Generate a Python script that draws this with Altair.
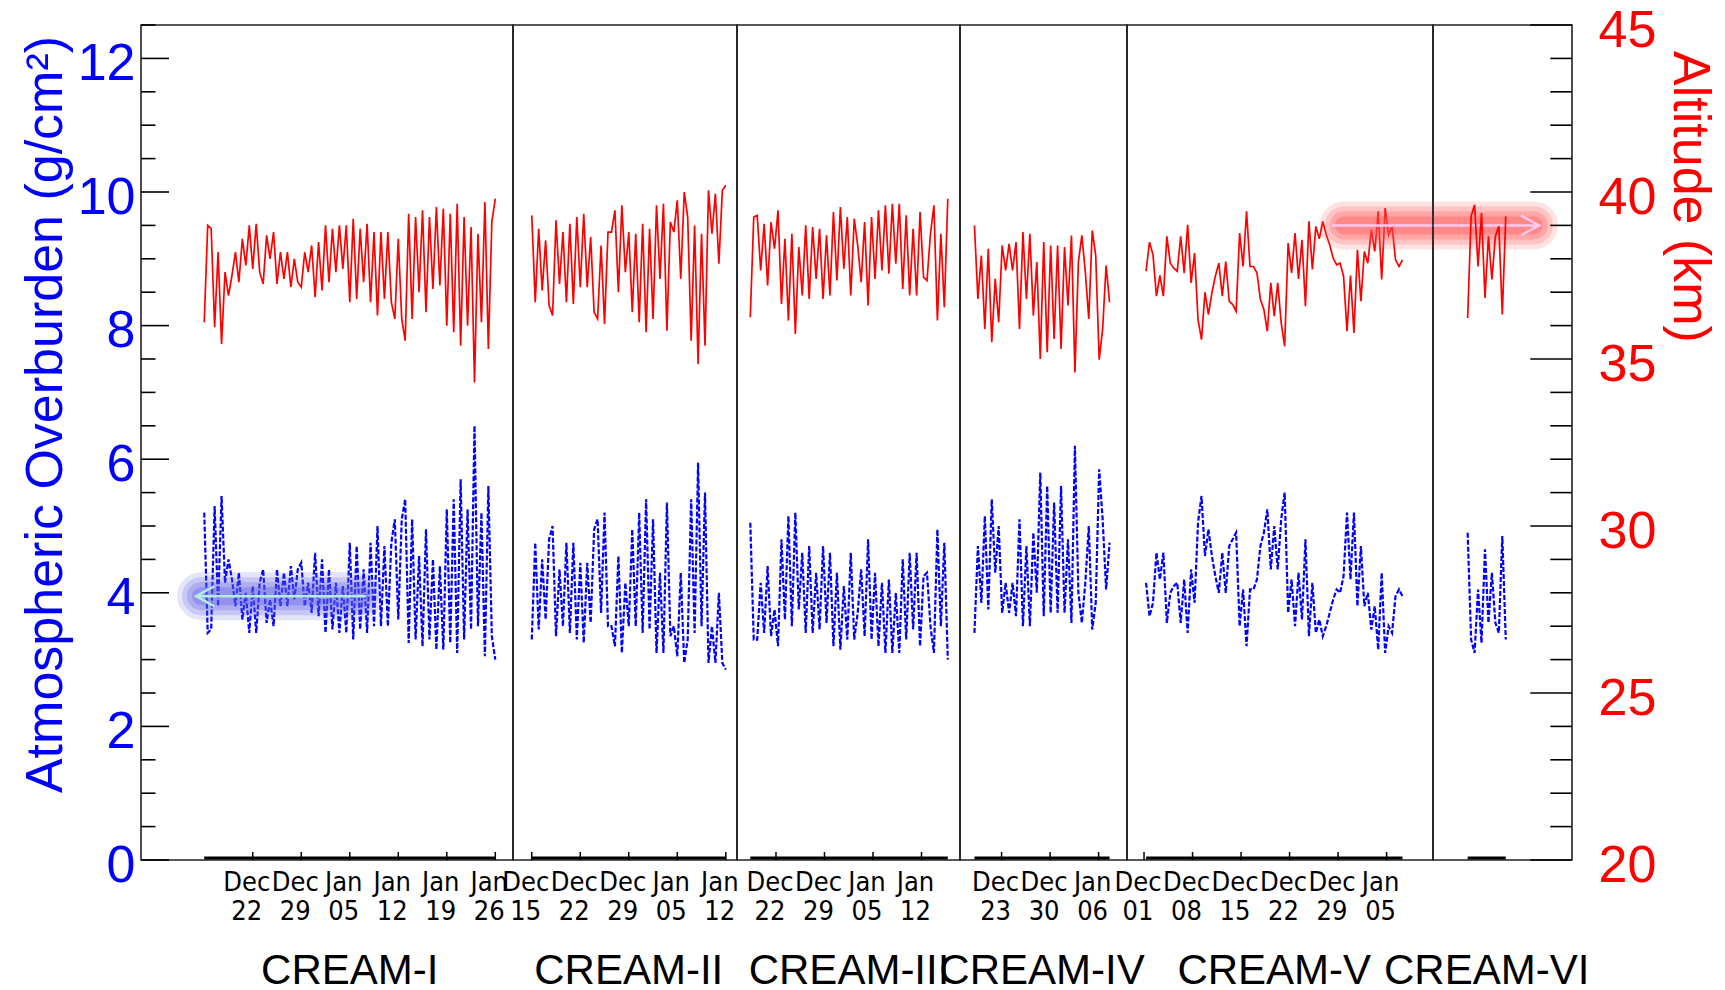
import altair as alt
import pandas as pd
from datetime import datetime, timedelta, timezone

UTC = timezone.utc

# ---------------- data ----------------
flights = ["CREAM-I", "CREAM-II", "CREAM-III", "CREAM-IV", "CREAM-V", "CREAM-VI"]

# first sample of each flight (UTC); samples every 12 h
start_times = ["2004-12-15T00:00", "2005-12-15T00:00", "2007-12-18T07:00",
               "2008-12-19T02:00", "2009-12-01T07:00", "2010-12-21T00:00"]

# altitude (km)
alt_1 = [36.1, 39.0, 38.9, 35.95, 38.2, 35.45, 37.6, 36.9, 37.5, 38.2,
         37.3, 38.6, 37.8, 39.0, 37.7, 39.05, 37.6, 37.25, 38.7, 38.0,
         38.8, 37.25, 38.2, 37.4, 38.2, 37.15, 38.0, 37.3, 37.15, 38.2,
         37.6, 38.4, 36.85, 38.5, 37.05, 39.0, 37.3, 38.9, 37.6, 39.0,
         37.7, 39.0, 36.7, 39.2, 36.8, 38.9, 37.3, 39.05, 36.7, 38.8,
         36.3, 38.8, 36.8, 38.8, 36.7, 36.2, 38.6, 36.2, 35.55, 39.35,
         36.2, 39.25, 37.0, 39.45, 36.4, 39.25, 37.1, 39.55, 37.2, 39.5,
         36.0, 39.35, 35.8, 39.65, 35.4, 39.25, 36.0, 38.95, 34.3, 38.75,
         36.1, 39.7, 35.3, 39.1, 39.8]
alt_2 = [39.3, 36.7, 38.9, 37.05, 38.55, 36.6, 36.3, 39.15, 37.25, 38.8,
         36.7, 39.05, 36.65, 39.25, 37.15, 39.35, 37.15, 38.65, 36.4, 36.2,
         38.4, 36.05, 38.8, 38.8, 39.45, 37.0, 39.6, 37.6, 38.8, 36.4,
         38.75, 36.1, 39.05, 35.8, 38.9, 36.2, 39.6, 37.4, 39.65, 35.85,
         39.1, 38.8, 39.75, 37.4, 40.0, 39.25, 35.55, 39.0, 34.85, 38.75,
         35.4, 40.05, 38.75, 39.95, 37.85, 40.05, 40.2]
alt_3 = [36.25, 39.25, 39.3, 37.65, 39.05, 37.2, 39.1, 38.3, 39.45, 36.65,
         38.6, 36.15, 38.75, 35.75, 38.35, 36.9, 39.0, 36.8, 38.95, 37.4,
         38.9, 36.8, 38.7, 36.9, 39.4, 37.35, 39.55, 37.7, 39.25, 36.9,
         39.2, 38.4, 37.3, 39.1, 36.6, 39.25, 37.4, 39.45, 37.65, 39.6,
         37.55, 39.65, 37.85, 39.65, 37.1, 39.3, 36.9, 38.9, 36.9, 39.4,
         37.45, 37.35, 38.75, 39.6, 36.15, 38.75, 36.55, 39.8]
alt_4 = [39.0, 36.8, 38.1, 35.9, 38.3, 35.5, 37.4, 36.1, 38.4, 37.65,
         38.45, 37.65, 38.5, 35.9, 38.8, 36.8, 38.75, 36.3, 37.9, 35.0,
         38.5, 35.2, 38.4, 35.6, 38.4, 35.3, 38.35, 36.6, 38.7, 34.6,
         37.9, 38.7, 37.6, 36.2, 38.85, 38.1, 34.98, 35.9, 37.8, 36.7]
alt_5 = [37.63, 38.5, 38.12, 36.88, 37.5, 36.88, 38.67, 37.87, 37.72, 37.63,
         38.67, 37.58, 39.02, 37.28, 38.17, 36.18, 35.58, 37.0, 36.33, 36.98,
         37.48, 37.87, 36.88, 37.92, 36.73, 36.63, 36.43, 38.77, 37.77, 39.42,
         37.77, 37.77, 37.58, 36.78, 36.48, 35.83, 37.28, 36.28, 37.28, 36.08,
         35.38, 38.47, 37.58, 38.77, 37.4, 38.57, 36.58, 39.12, 37.68, 38.97,
         38.6, 39.12, 38.72, 38.42, 38.02, 37.82, 37.87, 37.48, 35.83, 37.5,
         35.78, 38.27, 36.73, 38.22, 37.87, 38.87, 38.22, 39.42, 37.38, 39.52,
         38.72, 38.97, 37.97, 37.77, 37.97]
alt_6 = [36.23, 39.27, 39.62, 37.77, 39.37, 36.83, 38.67, 37.38, 38.67, 38.97,
         36.33, 39.27]

# atmospheric overburden (g/cm^2)
ob_1 = [5.2, 3.4, 3.45, 5.3, 3.8, 5.45, 4.15, 4.5, 4.2, 3.8,
        4.3, 3.6, 4.0, 3.4, 4.1, 3.4, 4.15, 4.35, 3.55, 3.9,
        3.5, 4.35, 3.8, 4.3, 3.8, 4.4, 3.9, 4.35, 4.45, 3.8,
        4.15, 3.7, 4.6, 3.65, 4.5, 3.4, 4.35, 3.45, 4.15, 3.4,
        4.1, 3.4, 4.75, 3.3, 4.7, 3.45, 4.35, 3.4, 4.75, 3.5,
        5.0, 3.5, 4.7, 3.5, 4.75, 5.1, 3.6, 5.1, 5.4, 3.25,
        5.1, 3.3, 4.55, 3.2, 4.95, 3.3, 4.5, 3.15, 4.4, 3.15,
        5.25, 3.25, 5.4, 3.1, 5.7, 3.3, 5.25, 3.45, 6.5, 3.5,
        5.2, 3.05, 5.6, 3.35, 3.0]
ob_2 = [3.3, 4.75, 3.45, 4.5, 3.6, 4.8, 5.0, 3.35, 4.35, 3.5,
        4.75, 3.4, 4.75, 3.3, 4.45, 3.25, 4.45, 3.55, 4.95, 5.1,
        3.7, 5.2, 3.5, 3.5, 3.2, 4.55, 3.1, 4.15, 3.5, 4.95,
        3.5, 5.2, 3.4, 5.4, 3.45, 5.1, 3.1, 4.3, 3.1, 5.35,
        3.35, 3.5, 3.05, 4.3, 2.95, 3.3, 5.4, 3.4, 5.95, 3.5,
        5.5, 2.95, 3.5, 2.95, 4.0, 2.95, 2.85]
ob_3 = [5.05, 3.3, 3.3, 4.15, 3.4, 4.4, 3.35, 3.75, 3.2, 4.8,
        3.6, 5.15, 3.5, 5.2, 3.75, 4.6, 3.4, 4.7, 3.4, 4.3,
        3.45, 4.7, 3.55, 4.6, 3.2, 4.3, 3.15, 4.1, 3.3, 4.6,
        3.3, 3.7, 4.35, 3.35, 4.8, 3.3, 4.3, 3.2, 4.15, 3.1,
        4.2, 3.1, 4.0, 3.1, 4.5, 3.3, 4.6, 3.45, 4.6, 3.2,
        4.25, 4.3, 3.5, 3.1, 4.95, 3.5, 4.75, 3.0]
ob_4 = [3.4, 4.7, 3.85, 5.15, 3.75, 5.4, 4.3, 5.0, 3.7, 4.15,
        3.7, 4.15, 3.65, 5.1, 3.5, 4.7, 3.5, 4.9, 4.0, 5.8,
        3.65, 5.6, 3.7, 5.35, 3.7, 5.6, 3.7, 4.8, 3.55, 6.2,
        4.0, 3.55, 4.15, 5.0, 3.45, 3.85, 5.85, 5.1, 4.05, 4.75]
ob_5 = [4.15, 3.65, 3.85, 4.6, 4.2, 4.6, 3.55, 4.0, 4.1, 4.15,
        3.55, 4.2, 3.4, 4.35, 3.85, 5.05, 5.45, 4.55, 4.95, 4.55,
        4.25, 4.0, 4.6, 4.0, 4.7, 4.8, 4.9, 3.5, 4.05, 3.2,
        4.05, 4.05, 4.2, 4.7, 4.9, 5.25, 4.35, 5.0, 4.35, 5.1,
        5.5, 3.7, 4.2, 3.5, 4.3, 3.6, 4.8, 3.35, 4.15, 3.4,
        3.6, 3.35, 3.5, 3.7, 3.9, 4.05, 4.0, 4.25, 5.2, 4.2,
        5.2, 3.8, 4.7, 3.8, 4.0, 3.45, 3.8, 3.15, 4.3, 3.1,
        3.5, 3.4, 3.95, 4.05, 3.95]
ob_6 = [4.9, 3.3, 3.1, 4.05, 3.25, 4.65, 3.55, 4.3, 3.55, 3.4, 4.85, 3.3]

# weekly date ticks shown under each flight
ticks_1 = ["2004-12-22", "2004-12-29", "2005-01-05", "2005-01-12", "2005-01-19", "2005-01-26"]
ticks_2 = ["2005-12-15", "2005-12-22", "2005-12-29", "2006-01-05", "2006-01-12"]
ticks_3 = ["2007-12-22", "2007-12-29", "2008-01-05", "2008-01-12"]
ticks_4 = ["2008-12-23", "2008-12-30", "2009-01-06"]
ticks_5 = ["2009-12-01", "2009-12-08", "2009-12-15", "2009-12-22", "2009-12-29", "2010-01-05"]
ticks_6 = []

altitudes = [alt_1, alt_2, alt_3, alt_4, alt_5, alt_6]
overburdens = [ob_1, ob_2, ob_3, ob_4, ob_5, ob_6]
tick_dates = [ticks_1, ticks_2, ticks_3, ticks_4, ticks_5, ticks_6]

# axis tick values
ob_major = [0, 2, 4, 6, 8, 10, 12]
ob_minor = [0.5 * i for i in range(26) if i % 4 != 0]
km_major = [20, 25, 30, 35, 40, 45]
km_minor = [k for k in range(20, 46) if k % 5 != 0]

# ---------------- layout / styling ----------------
PANEL_W = [372, 224, 223, 167, 306, 139]
PANEL_H = 835
PX_PER_DAY = 6.93
DOMAIN_START = ["2004-12-05T21:00", "2005-12-12T07:00", "2007-12-16T09:00",
                "2008-12-17T00:00", "2009-11-28T13:00", "2010-12-16T00:00"]

# highlight annotations
BLUE_NOTE = dict(panel=0, g0="2004-12-14T13:00", g1="2005-01-06T08:00",
                 a0="2004-12-13T20:00", a1="2005-01-07T08:00", v=3.95)
RED_NOTE = dict(panel=4, g0="2009-12-29T20:00", g1="2010-01-26T06:00",
                a0="2009-12-28T03:00", a1="2010-01-27T00:00", v=39.0)

FONT = "Liberation Sans, Arial, Helvetica, sans-serif"
NARROW = "'Liberation Sans Narrow', 'Arial Narrow', 'DejaVu Sans Condensed', 'Liberation Sans', sans-serif"
RED = "#ff0000"
BLUE = "#0000ff"


def ms(s):
    return datetime.fromisoformat(s).replace(tzinfo=UTC).timestamp() * 1000.0


km_scale = alt.Scale(domain=[20, 45], nice=False, zero=False)
ob_scale = alt.Scale(domain=[0, 12.5], nice=False, zero=False)


def glow(df, xscale, yfield, yscale, color, arrow_color, head_shape):
    layers = []
    for w, o in [(48, 0.16), (38, 0.2), (28, 0.25), (18, 0.3)]:
        layers.append(
            alt.Chart(df).mark_rule(color=color, strokeWidth=w, opacity=o, strokeCap="round").encode(
                x=alt.X("g0:T", scale=xscale, axis=None), x2="g1:T",
                y=alt.Y(yfield, scale=yscale, axis=None)))
    layers.append(
        alt.Chart(df).mark_rule(color=arrow_color, strokeWidth=2.5).encode(
            x=alt.X("a0:T", scale=xscale, axis=None), x2="a1:T",
            y=alt.Y(yfield, scale=yscale, axis=None)))
    layers.append(
        alt.Chart(df).mark_point(shape=head_shape, size=1300, filled=False, strokeWidth=2.5,
                                 color=arrow_color, opacity=1).encode(
            x=alt.X("head:T", scale=xscale, axis=None),
            y=alt.Y(yfield, scale=yscale, axis=None)))
    return layers


panels = []
for k in range(6):
    t0 = datetime.fromisoformat(start_times[k]).replace(tzinfo=UTC)
    times = [(t0 + timedelta(hours=12 * i)).timestamp() * 1000.0 for i in range(len(altitudes[k]))]
    df = pd.DataFrame({"t": times, "km": altitudes[k], "ob": overburdens[k]})

    d0 = datetime.fromisoformat(DOMAIN_START[k]).replace(tzinfo=UTC)
    d1 = d0 + timedelta(days=PANEL_W[k] / PX_PER_DAY)
    xscale = alt.Scale(type="utc", domain=[d0.timestamp() * 1000.0, d1.timestamp() * 1000.0], nice=False)

    km_axis = None
    ob_axis = None
    if k == 0:
        ob_axis = alt.Axis(orient="left", values=ob_major, ticks=False, domain=False, grid=False,
                           labelColor=BLUE, labelFont=FONT, labelFontSize=52, labelPadding=6,
                           labelOffset=5, labelBaseline="middle", labelAlign="right", labelFlush=False,
                           title="Atmospheric Overburden (g/cm²)", titleColor=BLUE, titleFont=FONT,
                           titleFontSize=52, titleFontWeight="normal", titleAngle=270,
                           titleX=-96, titleY=389, titleAlign="center", titleBaseline="middle")
    if k == 5:
        km_axis = alt.Axis(orient="right", values=km_major, ticks=False, domain=False, grid=False,
                           labelColor=RED, labelFont=FONT, labelFontSize=52, labelPadding=26,
                           labelOffset=5, labelBaseline="middle", labelAlign="left", labelFlush=False,
                           title="Altitude (km)", titleColor=RED, titleFont=FONT,
                           titleFontSize=52, titleFontWeight="normal", titleAngle=90,
                           titleX=117, titleY=171.5, titleAlign="center", titleBaseline="middle")

    red = alt.Chart(df).mark_line(color=RED, strokeWidth=1.7).encode(
        x=alt.X("t:T", scale=xscale, axis=None),
        y=alt.Y("km:Q", scale=km_scale, axis=km_axis))
    blue = alt.Chart(df).mark_line(color=BLUE, strokeWidth=2.2, strokeDash=[5, 2]).encode(
        x=alt.X("t:T", scale=xscale, axis=None),
        y=alt.Y("ob:Q", scale=ob_scale, axis=ob_axis))

    layers = [red, blue]

    # flight time line along the bottom
    span = pd.DataFrame({"t0": [times[0]], "t1": [times[-1]]})
    layers.append(alt.Chart(span).mark_rule(color="black", strokeWidth=3).encode(
        x=alt.X("t0:T", scale=xscale, axis=None), x2="t1:T", y=alt.value(PANEL_H - 2)))

    if tick_dates[k]:
        tdf = pd.DataFrame({"t": [ms(d) for d in tick_dates[k]],
                            "mon": [datetime.fromisoformat(d).strftime("%b") for d in tick_dates[k]],
                            "day": [datetime.fromisoformat(d).strftime("%d") for d in tick_dates[k]]})
        layers.append(alt.Chart(tdf).mark_rule(color="black", strokeWidth=1.5).encode(
            x=alt.X("t:T", scale=xscale, axis=None), y=alt.value(PANEL_H - 8), y2=alt.value(PANEL_H)))
        layers.append(alt.Chart(tdf).mark_text(font=NARROW, fontSize=27, color="black", dx=-6,
                                               baseline="middle", align="center").encode(
            x=alt.X("t:T", scale=xscale, axis=None), y=alt.value(PANEL_H + 23), text="mon:N"))
        layers.append(alt.Chart(tdf).mark_text(font=NARROW, fontSize=27, color="black", dx=-6,
                                               baseline="middle", align="center").encode(
            x=alt.X("t:T", scale=xscale, axis=None), y=alt.value(PANEL_H + 52), text="day:N"))

    # flight name
    lab = pd.DataFrame({"t": [(times[0] + times[-1]) / 2.0], "name": [flights[k]]})
    layers.append(alt.Chart(lab).mark_text(font=FONT, fontSize=42, color="black",
                                           baseline="middle", align="center").encode(
        x=alt.X("t:T", scale=xscale, axis=None), y=alt.value(946), text="name:N"))

    if k == 0:
        layers.append(alt.Chart(pd.DataFrame({"v": ob_major})).mark_rule(color="black", strokeWidth=1.6).encode(
            x=alt.value(0), x2=alt.value(28), y=alt.Y("v:Q", scale=ob_scale, axis=None)))
        layers.append(alt.Chart(pd.DataFrame({"v": ob_minor})).mark_rule(color="black", strokeWidth=1.6).encode(
            x=alt.value(0), x2=alt.value(14.5), y=alt.Y("v:Q", scale=ob_scale, axis=None)))
    if k == 5:
        layers.append(alt.Chart(pd.DataFrame({"v": km_major})).mark_rule(color="black", strokeWidth=1.6).encode(
            x=alt.value(PANEL_W[k] - 41.7), x2=alt.value(PANEL_W[k]), y=alt.Y("v:Q", scale=km_scale, axis=None)))
        layers.append(alt.Chart(pd.DataFrame({"v": km_minor})).mark_rule(color="black", strokeWidth=1.6).encode(
            x=alt.value(PANEL_W[k] - 21.7), x2=alt.value(PANEL_W[k]), y=alt.Y("v:Q", scale=km_scale, axis=None)))

    if k == BLUE_NOTE["panel"]:
        n = BLUE_NOTE
        gdf = pd.DataFrame({"g0": [ms(n["g0"])], "g1": [ms(n["g1"])], "a0": [ms(n["a0"])],
                            "a1": [ms(n["a1"])], "head": [ms(n["a0"])], "v": [n["v"]]})
        layers += glow(gdf, xscale, "v:Q", ob_scale, "#5a5ae6", "#b4ece0", "M1,-0.55L0,0L1,0.55")
    if k == RED_NOTE["panel"]:
        n = RED_NOTE
        gdf = pd.DataFrame({"g0": [ms(n["g0"])], "g1": [ms(n["g1"])], "a0": [ms(n["a0"])],
                            "a1": [ms(n["a1"])], "head": [ms(n["a1"])], "v": [n["v"]]})
        layers += glow(gdf, xscale, "v:Q", km_scale, "#ff4a4a", "#ffc8f0", "M-1,-0.55L0,0L-1,0.55")

    panel = alt.layer(*layers).resolve_scale(y="independent").properties(
        width=PANEL_W[k], height=PANEL_H)
    panels.append(panel)

chart = alt.hconcat(*panels, spacing=0, bounds="flush").resolve_scale(
    x="independent", y="independent").properties(
    padding={"left": 18, "top": 3, "right": 5, "bottom": 0},
    background="white").configure_view(stroke="#222222", strokeWidth=1.6)

chart.save("out.html", embed_options={"renderer": "svg", "actions": False})
